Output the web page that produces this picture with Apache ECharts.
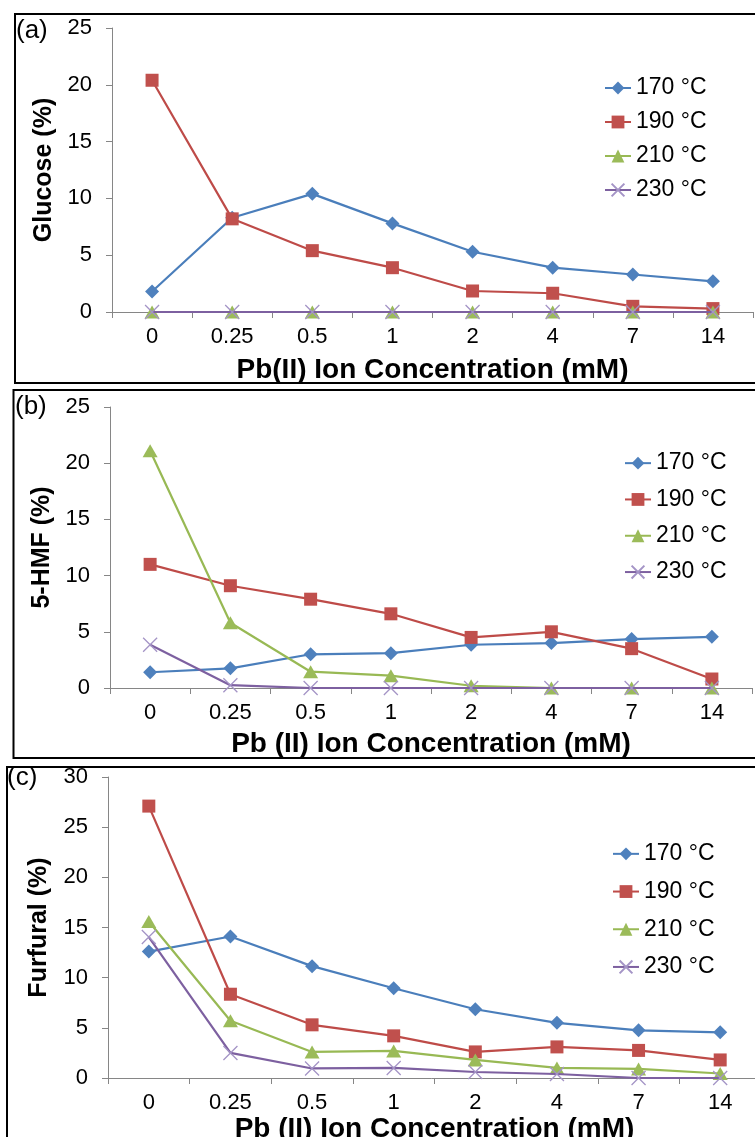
<!DOCTYPE html>
<html>
<head>
<meta charset="utf-8">
<script src="https://cdn.jsdelivr.net/npm/echarts@6/dist/echarts.min.js"></script>
<style>
html,body{margin:0;padding:0;background:#fff;}
#chart{width:755px;height:1137px;}
</style>
</head>
<body>
<div id="chart"></div>
<script>
// ---- data ----
const categories = ['0', '0.25', '0.5', '1', '2', '4', '7', '14'];
const seriesNames = ['170 °C', '190 °C', '210 °C', '230 °C'];

// (a) Glucose (%)
const glucose170 = [1.8, 8.3, 10.4, 7.8, 5.3, 3.9, 3.3, 2.7];
const glucose190 = [20.4, 8.2, 5.4, 3.9, 1.85, 1.65, 0.5, 0.3];
const glucose210 = [0, 0, 0, 0, 0, 0, 0, 0];
const glucose230 = [0, 0, 0, 0, 0, 0, 0, 0];

// (b) 5-HMF (%)
const hmf170 = [1.4, 1.75, 3.0, 3.1, 3.85, 4.0, 4.35, 4.55];
const hmf190 = [11.0, 9.1, 7.9, 6.6, 4.5, 5.0, 3.5, 0.8];
const hmf210 = [21.1, 5.8, 1.45, 1.1, 0.2, 0, 0, 0];
const hmf230 = [3.85, 0.25, 0, 0, 0, 0, 0, 0];

// (c) Furfural (%)
const furfural170 = [12.6, 14.1, 11.15, 8.95, 6.85, 5.5, 4.75, 4.55];
const furfural190 = [27.1, 8.35, 5.3, 4.2, 2.6, 3.1, 2.75, 1.8];
const furfural210 = [15.6, 5.7, 2.6, 2.7, 1.8, 1.0, 0.9, 0.45];
const furfural230 = [14.05, 2.5, 0.95, 1.0, 0.6, 0.4, 0, 0];

const panelLetters = ['(a)', '(b)', '(c)'];
const yTitles = ['Glucose (%)', '5-HMF (%)', 'Furfural (%)'];
const xTitles = ['Pb(II) Ion Concentration (mM)', 'Pb (II) Ion Concentration (mM)', 'Pb (II) Ion Concentration (mM)'];
const yMax = [25, 25, 30];

const panelData = [
  [glucose170, glucose190, glucose210, glucose230],
  [hmf170, hmf190, hmf210, hmf230],
  [furfural170, furfural190, furfural210, furfural230]
];

// ---- styles ----
const FONT = '"Liberation Sans", Arial, sans-serif';
const lineColors = ['#4A7EBB', '#BE4B48', '#98B954', '#7D60A0'];
const markerFill = ['#4F81BD', '#C0504D', '#9BBB59', 'none'];
const markerSymbols = ['diamond', 'rect', 'triangle', 'path://M0,0L10,10M10,0L0,10'];
const markerSizes = [14, 13, [15, 13], 14];

const grids = [
  { left: 112, top: 28, width: 641, height: 284 },
  { left: 110, top: 407, width: 642, height: 281 },
  { left: 108, top: 777, width: 653, height: 301 }
];
const xNameGap = [44, 42, 37];
const yNameGap = [50, 51, 56];
const legendPos = [
  { left: 604, top: 71, lh: 34 },
  { left: 624, top: 445, lh: 36.3 },
  { left: 612, top: 835, lh: 37.7 }
];
const borders = [
  { x: 15, y: 14, w: 760, h: 369 },
  { x: 13.5, y: 390, w: 760, h: 368 },
  { x: 7, y: 767, w: 760, h: 400 }
];
const letterPos = [[16, 31], [15, 407], [7, 778]];

const axisGray = '#868686';

const option = {
  backgroundColor: '#ffffff',
  animation: false,
  textStyle: { fontFamily: FONT, color: '#000' },
  grid: grids.map(g => Object.assign({ containLabel: false, outerBoundsMode: 'none' }, g)),
  xAxis: grids.map((g, i) => ({
    type: 'category',
    gridIndex: i,
    data: categories,
    boundaryGap: true,
    axisLine: { show: true, lineStyle: { color: axisGray, width: 1 } },
    axisTick: { show: true, length: 6, inside: false, lineStyle: { color: axisGray } },
    axisLabel: { interval: 0, margin: 14, fontSize: 22, color: '#000', fontFamily: FONT },
    splitLine: { show: false },
    name: xTitles[i],
    nameLocation: 'middle',
    nameGap: xNameGap[i],
    nameTextStyle: { fontSize: 28, fontWeight: 'bold', color: '#000', fontFamily: FONT }
  })),
  yAxis: grids.map((g, i) => ({
    type: 'value',
    gridIndex: i,
    min: 0,
    max: yMax[i],
    interval: 5,
    axisLine: { show: true, lineStyle: { color: axisGray, width: 1 } },
    axisTick: { show: true, length: 6, inside: false, lineStyle: { color: axisGray } },
    axisLabel: { margin: 20, fontSize: 22, color: '#000', fontFamily: FONT },
    splitLine: { show: false },
    name: yTitles[i],
    nameLocation: 'middle',
    nameRotate: 90,
    nameGap: yNameGap[i],
    nameTextStyle: { fontSize: 25, fontWeight: 'bold', color: '#000', fontFamily: FONT }
  })),
  legend: legendPos.map((p, i) => ({
    orient: 'vertical',
    left: p.left,
    top: p.top,
    itemGap: 0,
    itemWidth: 26,
    itemHeight: 16,
    padding: 0,
    data: seriesNames.map(n => n + '\u200B'.repeat(i)),
    textStyle: { fontSize: 23, color: '#000', fontFamily: FONT, lineHeight: p.lh }
  })),
  series: [],
  graphic: []
};

panelData.forEach((arrs, p) => {
  arrs.forEach((vals, s) => {
    const isX = s === 3;
    option.series.push({
      type: 'line',
      name: seriesNames[s] + '\u200B'.repeat(p),
      xAxisIndex: p,
      yAxisIndex: p,
      data: vals,
      symbol: markerSymbols[s],
      symbolSize: markerSizes[s],
      showAllSymbol: true,
      lineStyle: { color: lineColors[s], width: 2.2 },
      itemStyle: isX
        ? { color: 'none', borderColor: '#A494C6', borderWidth: 1.3 }
        : { color: markerFill[s], borderColor: markerFill[s], borderWidth: 0 },
      emphasis: { disabled: true },
      z: 2 + s
    });
  });
});

borders.forEach(b => {
  option.graphic.push({
    type: 'rect',
    shape: { x: b.x, y: b.y, width: b.w, height: b.h },
    style: { fill: 'none', stroke: '#000', lineWidth: 2 },
    silent: true,
    z: 10
  });
});
letterPos.forEach((pos, i) => {
  option.graphic.push({
    type: 'text',
    x: pos[0],
    y: pos[1],
    style: { text: panelLetters[i], font: '26px ' + FONT, fill: '#000', verticalAlign: 'middle', align: 'left' },
    silent: true,
    z: 10
  });
});

const chart = echarts.init(document.getElementById('chart'), null, { renderer: 'canvas' });
chart.setOption(option);
</script>
</body>
</html>
